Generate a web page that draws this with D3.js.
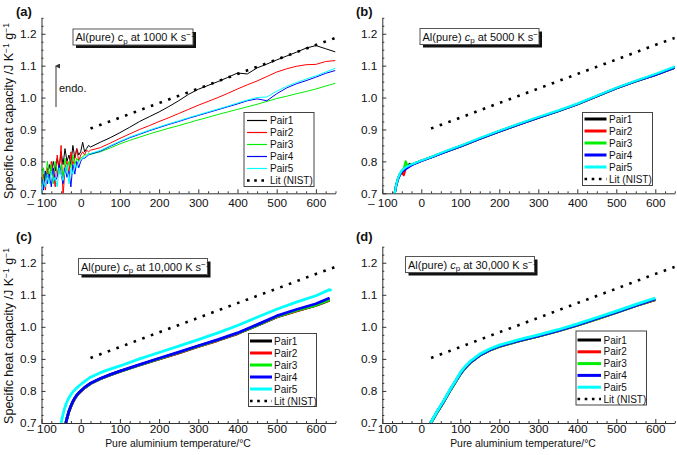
<!DOCTYPE html>
<html><head><meta charset="utf-8">
<script src="https://d3js.org/d3.v7.min.js"></script>
<style>
body{margin:0;background:#fff}
svg{display:block;font-family:"Liberation Sans",Arial,sans-serif}
</style></head><body>
<svg id="chart" width="677" height="455"></svg>
<script>
// ---------------- DATA ----------------
const pairNames = ["Pair1","Pair2","Pair3","Pair4","Pair5"];
const litName = "Lit (NIST)";
const xMajorTicks = [-100,0,100,200,300,400,500,600];
const yMajorTicks = [0.7,0.8,0.9,1.0,1.1,1.2];
const panelLabels = ["(a)","(b)","(c)","(d)"];
const rateLabels = ["1000","5000","10,000","30,000"];
const yTitle = "Specific heat capacity /J K";
const xTitle = "Pure aluminium temperature/°C";

// NIST literature values (°C, J K-1 g-1)
const nistT  = [25,100,200,300,400,500,600,650];
const nistCp = [0.903,0.937,0.983,1.028,1.074,1.119,1.165,1.187];

// (a) 1000 K/s
const tA = [-100,-95,-90,-85,-80,-75,-70,-65,-60,-55,-50,-45,-40,-35,-30,-25,-20,-15,-10,-5,0,5,10,15,20,25,
            50,75,100,125,150,175,200,225,250,275,300,325,350,375,400,425,450,475,500,525,550,575,600,625,650];
const a1 = [0.74,0.72,0.77,0.75,0.79,0.76,0.80,0.77,0.81,0.78,0.83,0.79,0.84,0.80,0.82,0.79,0.85,0.81,0.84,0.82,0.83,0.86,0.83,0.84,0.85,0.845,
            0.86,0.874,0.89,0.907,0.925,0.94,0.955,0.972,0.99,1.01,1.026,1.038,1.05,1.063,1.077,1.074,1.093,1.105,1.118,1.13,1.142,1.155,1.163,1.153,1.143];
const a2 = [0.73,0.76,0.71,0.78,0.74,0.80,0.76,0.72,0.82,0.77,0.85,0.69,0.78,0.80,0.76,0.83,0.79,0.81,0.84,0.80,0.82,0.83,0.82,0.835,0.83,0.835,
            0.843,0.857,0.872,0.886,0.90,0.912,0.925,0.937,0.95,0.963,0.976,0.988,1.0,1.013,1.027,1.04,1.052,1.066,1.08,1.09,1.098,1.103,1.104,1.113,1.116];
const a3 = [0.72,0.78,0.74,0.80,0.75,0.79,0.73,0.80,0.77,0.76,0.79,0.75,0.81,0.77,0.80,0.78,0.82,0.79,0.81,0.80,0.81,0.815,0.82,0.82,0.825,0.822,
            0.83,0.842,0.855,0.866,0.876,0.886,0.895,0.904,0.912,0.921,0.93,0.938,0.947,0.955,0.963,0.971,0.979,0.988,0.997,1.004,1.012,1.019,1.027,1.036,1.045];
const a4 = [0.75,0.71,0.77,0.73,0.76,0.72,0.78,0.74,0.75,0.79,0.76,0.73,0.78,0.75,0.77,0.72,0.79,0.76,0.80,0.78,0.80,0.81,0.81,0.815,0.82,0.823,
            0.832,0.847,0.861,0.874,0.885,0.896,0.906,0.916,0.925,0.935,0.944,0.953,0.962,0.971,0.98,0.99,0.996,0.99,1.012,1.03,1.043,1.053,1.064,1.076,1.085];
const a5 = [0.70,0.74,0.72,0.76,0.73,0.77,0.74,0.75,0.72,0.78,0.76,0.74,0.77,0.79,0.73,0.78,0.76,0.79,0.78,0.80,0.805,0.81,0.812,0.818,0.822,0.825,
            0.834,0.849,0.863,0.876,0.887,0.898,0.908,0.918,0.927,0.937,0.946,0.955,0.964,0.973,0.983,0.992,1.0,1.002,1.02,1.035,1.047,1.058,1.068,1.08,1.092];

// (b) 5000 K/s
const tB = [-68,-65,-60,-55,-50,-45,-40,-35,-30,-25,-20,-10,0,25,50,75,100,150,200,250,300,350,400,450,500,550,600,650];
const b1 = [0.70,0.722,0.745,0.760,0.770,0.776,0.781,0.785,0.792,0.790,0.792,0.797,0.802,0.813,0.825,0.836,0.847,0.871,0.894,0.916,0.937,0.957,0.979,1.004,1.029,1.051,1.071,1.094];
const b2 = [0.70,0.721,0.744,0.758,0.766,0.757,0.778,0.783,0.787,0.790,0.792,0.797,0.802,0.813,0.825,0.836,0.847,0.871,0.894,0.916,0.937,0.957,0.979,1.004,1.029,1.051,1.071,1.094];
const b3 = [0.70,0.722,0.745,0.760,0.770,0.776,0.800,0.784,0.787,0.790,0.792,0.797,0.802,0.813,0.825,0.836,0.847,0.871,0.894,0.916,0.937,0.957,0.979,1.004,1.029,1.051,1.071,1.094];
const b4 = [0.70,0.721,0.743,0.757,0.766,0.772,0.776,0.780,0.784,0.788,0.791,0.796,0.801,0.812,0.824,0.836,0.847,0.871,0.894,0.916,0.937,0.957,0.979,1.004,1.029,1.051,1.071,1.094];
const b5 = [0.70,0.723,0.746,0.761,0.771,0.777,0.781,0.785,0.788,0.791,0.793,0.798,0.803,0.814,0.826,0.838,0.849,0.873,0.896,0.918,0.939,0.959,0.981,1.006,1.031,1.053,1.074,1.097];

// (c) 10,000 K/s
const tC = [-38,-35,-30,-25,-20,-15,-10,-5,0,10,25,50,75,100,150,200,250,300,350,400,450,500,550,600,635];
const c1 = [0.70,0.714,0.736,0.752,0.766,0.777,0.786,0.793,0.799,0.81,0.823,0.838,0.85,0.861,0.881,0.90,0.919,0.939,0.958,0.979,1.004,1.031,1.05,1.067,1.083];
const c2 = [0.70,0.714,0.736,0.752,0.766,0.777,0.786,0.793,0.799,0.81,0.823,0.838,0.85,0.861,0.881,0.90,0.919,0.939,0.958,0.979,1.005,1.031,1.05,1.068,1.084];
const c3 = [0.70,0.715,0.737,0.752,0.766,0.777,0.786,0.793,0.80,0.81,0.823,0.838,0.85,0.861,0.881,0.901,0.92,0.94,0.959,0.98,1.005,1.032,1.051,1.068,1.085];
const c4 = [0.70,0.715,0.737,0.753,0.767,0.778,0.787,0.794,0.80,0.811,0.824,0.839,0.851,0.862,0.882,0.902,0.921,0.941,0.96,0.981,1.007,1.034,1.054,1.072,1.09];
const tC5 = [-50,-47,-42,-37,-32,-27,-22,-17,-12,-5,0,10,25,50,75,100,150,200,250,300,350,400,450,500,550,600,635,640];
const c5 = [0.70,0.717,0.742,0.76,0.774,0.785,0.794,0.801,0.807,0.815,0.82,0.83,0.843,0.857,0.868,0.878,0.90,0.92,0.94,0.96,0.981,1.004,1.03,1.055,1.077,1.097,1.116,1.113];

// (d) 30,000 K/s
const tD = [24,30,40,50,60,75,90,100,110,125,150,175,200,250,300,350,400,450,500,550,600];
const e1 = [0.70,0.712,0.733,0.752,0.772,0.804,0.833,0.853,0.869,0.888,0.911,0.927,0.939,0.956,0.971,0.987,1.005,1.025,1.045,1.066,1.085];
const e2 = [0.70,0.712,0.733,0.752,0.772,0.804,0.833,0.853,0.869,0.888,0.911,0.927,0.939,0.956,0.971,0.987,1.005,1.025,1.045,1.066,1.085];
const e3 = [0.70,0.712,0.733,0.752,0.772,0.804,0.833,0.853,0.869,0.888,0.911,0.927,0.939,0.956,0.971,0.987,1.005,1.025,1.045,1.066,1.086];
const e4 = [0.70,0.713,0.734,0.753,0.773,0.805,0.834,0.854,0.870,0.889,0.912,0.928,0.940,0.957,0.972,0.988,1.006,1.026,1.046,1.067,1.087];
const e5 = [0.70,0.714,0.735,0.755,0.775,0.807,0.836,0.857,0.873,0.892,0.915,0.931,0.943,0.960,0.975,0.991,1.009,1.029,1.049,1.070,1.090];

// ---------------- STYLE / LAYOUT ----------------
const colors = ["#000000","#ff0000","#00ee00","#0000ff","#00ffff"];
const svg = d3.select("#chart");

const panels = [
  {x0:41.5, x1:335.5, y0:17.8,  y1:193.3, lw:1,   legLw:1.2, pad:5.5, series:[[tA,a1],[tA,a2],[tA,a3],[tA,a4],[tA,a5]],
   leg:{x:244,y:112.5,w:70,h:74,r0:120.5,dy:12,lx0:247,lx1:267,tx:270},
   box:{x:73,y:29,w:120,h:16}, yTitle:111, xTitle:null, label:{x:16,y:16}},
  {x0:382.3, x1:674.8, y0:17.8, y1:193.3, lw:2.2, legLw:3, pad:5.5, series:[[tB,b1],[tB,b2],[tB,b3],[tB,b4],[tB,b5]],
   leg:{x:582.5,y:112.5,w:70,h:73,r0:119,dy:12,lx0:584.5,lx1:606.5,tx:609},
   box:{x:420,y:28.5,w:119,h:16}, yTitle:null, xTitle:null, label:{x:356,y:16}},
  {x0:41.5, x1:335.5, y0:246.7, y1:423, lw:2.8, legLw:3, pad:1.8, series:[[tC,c1],[tC,c2],[tC,c3],[tC,c4],[tC5,c5]],
   leg:{x:248.5,y:333.5,w:68,h:73,r0:341,dy:12,lx0:250,lx1:272,tx:274},
   box:{x:78.5,y:258.5,w:129,h:16}, yTitle:336, xTitle:178, label:{x:16,y:241}},
  {x0:382.3, x1:674.8, y0:246.7, y1:423, lw:2.8, legLw:3, pad:1.8, series:[[tD,e1],[tD,e2],[tD,e3],[tD,e4],[tD,e5]],
   leg:{x:576,y:331,w:70.5,h:74,r0:340,dy:11.8,lx0:577.5,lx1:601,tx:603.5},
   box:{x:405.5,y:256.5,w:129,h:16}, yTitle:null, xTitle:523, label:{x:356,y:241}}
];

const fmtX = v => v < 0 ? "\u2013 " + Math.abs(v) : String(v);
const fmtY = d3.format(".1f");

panels.forEach((p, i) => {
  const x = d3.scaleLinear().domain([-100, 650]).range([p.x0, p.x1]);
  const y = d3.scaleLinear().domain([0.7, 1.25]).range([p.y1, p.y0]);
  const g = svg.append("g");

  const clipId = "clip" + i;
  svg.append("clipPath").attr("id", clipId).append("rect")
    .attr("x", p.x0).attr("y", p.y0).attr("width", p.x1 - p.x0).attr("height", p.y1 - p.y0);

  // axes
  const xMinor = d3.range(-100, 650.1, 25).filter(v => !xMajorTicks.includes(v));
  const yMinor = d3.range(0, 23).map(k => +(0.7 + k * 0.025).toFixed(3)).filter(v => !yMajorTicks.some(t => Math.abs(t - v) < 1e-6));

  g.append("g").attr("transform", `translate(0,${p.y1})`)
    .call(d3.axisBottom(x).tickValues(xMajorTicks).tickFormat(fmtX).tickSizeInner(-4).tickSizeOuter(0).tickPadding(p.pad));
  g.append("g").attr("transform", `translate(0,${p.y1})`)
    .call(d3.axisBottom(x).tickValues(xMinor).tickFormat("").tickSizeInner(-2).tickSizeOuter(0))
    .select(".domain").remove();
  g.append("g").attr("transform", `translate(${p.x0},0)`)
    .call(d3.axisLeft(y).tickValues(yMajorTicks).tickFormat(fmtY).tickSizeInner(-4).tickSizeOuter(0).tickPadding(5));
  g.append("g").attr("transform", `translate(${p.x0},0)`)
    .call(d3.axisLeft(y).tickValues(yMinor).tickFormat("").tickSizeInner(-2).tickSizeOuter(0))
    .select(".domain").remove();
  g.selectAll(".domain").attr("stroke", "#333");
  g.selectAll(".tick line").attr("stroke", "#333");
  g.selectAll(".tick text").attr("font-size", 11.8).attr("font-family", "Liberation Sans, Arial, sans-serif").attr("fill", "#111");

  // data lines
  const plot = g.append("g").attr("clip-path", `url(#${clipId})`);
  p.series.forEach(([ts, vs], k) => {
    const pts = ts.map((t, j) => [t, vs[j]]);
    plot.append("path").datum(pts)
      .attr("fill", "none").attr("stroke", colors[k]).attr("stroke-width", p.lw)
      .attr("stroke-linejoin", "round")
      .attr("d", d3.line().x(d => x(d[0])).y(d => y(d[1])));
  });
  // NIST
  plot.append("path").datum(nistT.map((t, j) => [t, nistCp[j]]))
    .attr("fill", "none").attr("stroke", "#000").attr("stroke-width", 2.6)
    .attr("stroke-dasharray", "2.6,6.6")
    .attr("d", d3.line().x(d => x(d[0])).y(d => y(d[1])));

  // legend
  const L = p.leg;
  g.append("rect").attr("x", L.x).attr("y", L.y).attr("width", L.w).attr("height", L.h)
    .attr("fill", "#fff").attr("stroke", "#444").attr("stroke-width", 1);
  pairNames.forEach((nm, k) => {
    const ry = L.r0 + k * L.dy;
    g.append("line").attr("x1", L.lx0).attr("x2", L.lx1).attr("y1", ry).attr("y2", ry)
      .attr("stroke", colors[k]).attr("stroke-width", p.legLw);
    g.append("text").attr("x", L.tx).attr("y", ry + 3.6).attr("font-size", 10).attr("fill", "#111").text(nm);
  });
  const ly = L.r0 + 5 * L.dy;
  g.append("line").attr("x1", L.lx0).attr("x2", L.lx1).attr("y1", ly).attr("y2", ly)
    .attr("stroke", "#000").attr("stroke-width", 2.6).attr("stroke-dasharray", "2.6,4.6");
  g.append("text").attr("x", L.tx).attr("y", ly + 3.6).attr("font-size", 10).attr("fill", "#111").text(litName);

  // annotation box with shadow
  const B = p.box;
  g.append("rect").attr("x", B.x + 3).attr("y", B.y + 3).attr("width", B.w).attr("height", B.h).attr("fill", "#111");
  g.append("rect").attr("x", B.x).attr("y", B.y).attr("width", B.w).attr("height", B.h)
    .attr("fill", "#fff").attr("stroke", "#555").attr("stroke-width", 1);
  const t = g.append("text").attr("x", B.x + 2.5).attr("y", B.y + 12.2).attr("font-size", 11).attr("fill", "#111");
  t.append("tspan").text("Al(pure) ");
  t.append("tspan").attr("font-style", "italic").text("c");
  t.append("tspan").attr("font-size", 8).attr("dy", 2.5).text("p");
  t.append("tspan").attr("dy", -2.5).text(" at " + rateLabels[i] + " K s");
  t.append("tspan").attr("font-size", 8).attr("dy", -4).text("\u22121");

  // panel label
  g.append("text").attr("x", p.label.x).attr("y", p.label.y).attr("font-size", 13).attr("font-weight", "bold")
    .attr("fill", "#111").text(panelLabels[i]);

  // y title
  if (p.yTitle !== null) {
    const yt = g.append("text").attr("transform", `translate(13,${p.yTitle}) rotate(-90)`)
      .attr("text-anchor", "middle").attr("font-size", 12.5).attr("fill", "#111");
    yt.append("tspan").text(yTitle);
    yt.append("tspan").attr("font-size", 8.5).attr("dy", -4.5).text("\u22121");
    yt.append("tspan").attr("dy", 4.5).text(" g");
    yt.append("tspan").attr("font-size", 8.5).attr("dy", -4.5).text("\u22121");
  }
  // x title
  if (p.xTitle !== null) {
    g.append("text").attr("x", p.xTitle).attr("y", 447).attr("text-anchor", "middle")
      .attr("font-size", 10.4).attr("fill", "#111").text(xTitle);
  }
});

// endo arrow in (a)
const arrowG = svg.append("g");
svg.append("defs").append("marker").attr("id", "ah").attr("viewBox", "0 0 10 10")
  .attr("refX", 5).attr("refY", 2).attr("markerWidth", 5).attr("markerHeight", 6).attr("orient", "auto-start-reverse")
  .append("path").attr("d", "M0,10 L5,0 L10,10 Z").attr("fill", "#333");
arrowG.append("line").attr("x1", 56).attr("x2", 56).attr("y1", 107).attr("y2", 66)
  .attr("stroke", "#333").attr("stroke-width", 1).attr("marker-end", "url(#ah)");
arrowG.append("text").attr("x", 59).attr("y", 92).attr("font-size", 11).attr("fill", "#111").text("endo.");
</script>
</body></html>
